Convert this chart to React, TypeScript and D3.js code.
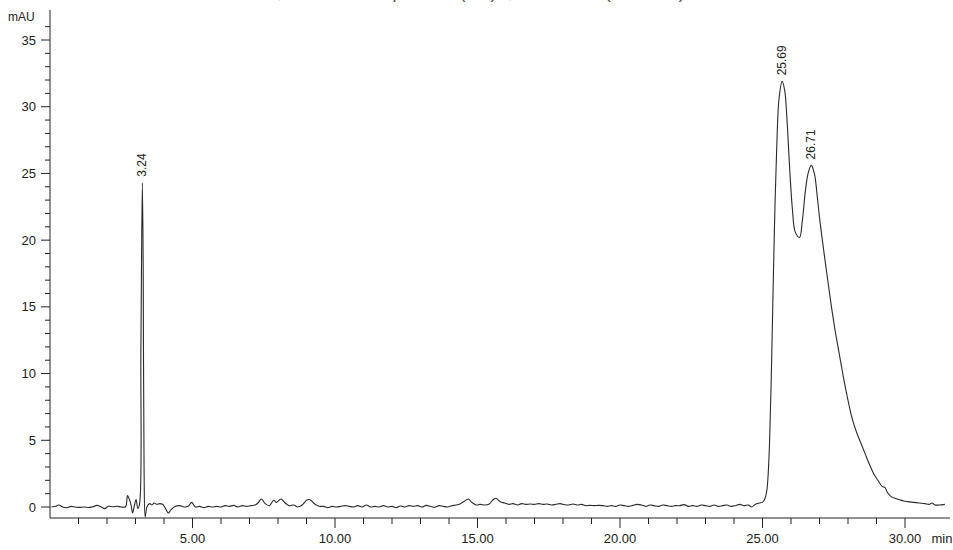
import React from "react";
import * as d3 from "d3";

const times: number[] = [
  0.05, 0.2, 0.3, 0.45, 0.6, 0.75, 0.9, 1.05, 1.2, 1.35, 1.5, 1.65, 1.8, 1.92, 2.05, 2.2, 2.35, 2.5, 2.65,
  2.72, 2.78, 2.84, 2.9, 2.96, 3.02, 3.08, 3.14, 3.19, 3.24, 3.27, 3.3, 3.34, 3.4, 3.5, 3.58, 3.65, 3.75,
  3.85, 3.95, 4.05, 4.15, 4.25, 4.4, 4.55, 4.7, 4.85, 4.97, 5.1, 5.25, 5.4, 5.55, 5.7, 5.85, 6.0, 6.15,
  6.3, 6.45, 6.6, 6.75, 6.9, 7.05, 7.2, 7.3, 7.42, 7.55, 7.7, 7.85, 7.95, 8.1, 8.25, 8.4, 8.55, 8.7, 8.85,
  9.0, 9.12, 9.3, 9.45, 9.6, 9.75, 9.9, 10.05, 10.2, 10.35, 10.5, 10.65, 10.8, 10.95, 11.1, 11.25, 11.4,
  11.55, 11.7, 11.85, 12.0, 12.15, 12.3, 12.45, 12.6, 12.75, 12.9, 13.05, 13.2, 13.35, 13.5, 13.65, 13.8,
  13.95, 14.1, 14.25, 14.4, 14.55, 14.68, 14.8, 14.95, 15.1, 15.25, 15.4, 15.55, 15.65, 15.8, 15.95, 16.1,
  16.25, 16.4, 16.55, 16.7, 16.85, 17.0, 17.15, 17.3, 17.45, 17.6, 17.75, 17.9, 18.05, 18.2, 18.35, 18.5,
  18.65, 18.8, 18.95, 19.1, 19.25, 19.4, 19.55, 19.7, 19.85, 20.0, 20.15, 20.3, 20.45, 20.6, 20.75, 20.9,
  21.05, 21.2, 21.35, 21.5, 21.65, 21.8, 21.95, 22.1, 22.25, 22.4, 22.55, 22.7, 22.85, 23.0, 23.15, 23.3,
  23.45, 23.6, 23.75, 23.9, 24.05, 24.2, 24.35, 24.5, 24.62, 24.75, 24.9, 25.0, 25.08, 25.15, 25.2, 25.25,
  25.3, 25.36, 25.42, 25.5, 25.58, 25.69, 25.78, 25.86, 25.95, 26.05, 26.15, 26.3, 26.4, 26.5, 26.6,
  26.71, 26.82, 26.92, 27.0, 27.1, 27.25, 27.4, 27.55, 27.7, 27.85, 28.0, 28.15, 28.3, 28.45, 28.6, 28.75,
  28.9, 29.05, 29.2, 29.3, 29.38, 29.5, 29.65, 29.8, 29.95, 30.1, 30.3, 30.5, 30.7, 30.85, 30.95, 31.05,
  31.2, 31.4,
];

const signal: number[] = [
  0.0, 0.05, 0.15, 0.0, -0.05, 0.05, -0.02, -0.03, 0.0, -0.04, 0.02, 0.12, 0.0, -0.12, 0.05, 0.02, 0.06, 0.0, 0.02,
  0.85, 0.6, 0.2, -0.45, 0.1, 0.55, -0.1, 0.2, 12, 24.3, 18, 3, -0.75, 0.0, 0.25, 0.15, 0.3, 0.2,
  0.25, 0.2, -0.1, -0.45, -0.2, 0.05, 0.1, 0.0, 0.05, 0.35, 0.0, 0.05, -0.05, 0.05, 0.0, 0.05, 0.0, 0.1,
  0.05, 0.12, 0.0, 0.1, 0.05, 0.1, 0.15, 0.3, 0.6, 0.25, 0.1, 0.5, 0.35, 0.6, 0.3, 0.1, 0.15, 0.0, 0.15,
  0.5, 0.55, 0.2, 0.05, 0.05, -0.05, 0.05, 0.0, 0.05, 0.1, 0.05, 0.0, 0.1, 0.0, 0.15, 0.0, 0.05,
  0.0, 0.1, 0.0, 0.05, -0.05, 0.08, 0.0, 0.1, 0.05, 0.1, 0.0, 0.12, 0.05, -0.02, 0.1, 0.05,
  0.0, 0.1, 0.15, 0.25, 0.45, 0.6, 0.35, 0.15, 0.2, 0.15, 0.2, 0.55, 0.65, 0.4, 0.3, 0.2,
  0.25, 0.15, 0.25, 0.2, 0.22, 0.2, 0.25, 0.2, 0.22, 0.15, 0.2, 0.25, 0.18, 0.15, 0.22, 0.15,
  0.2, 0.1, 0.12, 0.1, 0.12, 0.1, 0.05, 0.1, 0.05, 0.15, 0.1, 0.05, 0.12, 0.2, 0.15, 0.05,
  0.15, 0.1, 0.05, 0.15, 0.1, 0.05, 0.1, 0.1, 0.18, 0.05, 0.1, 0.05, 0.15, 0.1, 0.05, 0.15,
  0.05, 0.1, 0.15, 0.05, 0.1, 0.2, 0.1, 0.15, 0.0, 0.2, 0.3, 0.35, 0.6, 1.2, 2.5, 5,
  9, 15, 21, 27, 30.6, 31.9, 31.2, 29, 25.5, 22.3, 20.6, 20.2, 21.5, 23.6, 25.0,
  25.6, 25.0, 23.3, 21.7, 20.0, 17.6, 15.3, 13.2, 11.4, 9.6, 8.0, 6.6, 5.6, 4.8, 4.0, 3.2,
  2.5, 2.0, 1.55, 1.45, 1.1, 0.8, 0.65, 0.55, 0.45, 0.4, 0.35, 0.3, 0.25, 0.2, 0.3, 0.15,
  0.15, 0.2,
];

const peakTimes: number[] = [3.24, 25.69, 26.71];
const peakHeights: number[] = [24.3, 31.9, 25.6];
const peakLabels: string[] = ["3.24", "25.69", "26.71"];

const yMajorTicks: number[] = [0, 5, 10, 15, 20, 25, 30, 35];
const xMajorTicks: number[] = [5, 10, 15, 20, 25, 30];
const xTickLabels: string[] = ["5.00", "10.00", "15.00", "20.00", "25.00", "30.00"];

const titleText = "2998 PDA Ch1 254nm@1.2nm - Sample Run (UV) @ 254.0 nm (Ch1 254)";

export default function App() {
  const W = 953;
  const H = 550;
  const x = d3.scaleLinear().domain([0, 30]).range([50, 905]);
  const y = d3.scaleLinear().domain([0, 35]).range([507, 40]);
  const font = "'Liberation Sans', Arial, Helvetica, sans-serif";
  const ink = "#222";

  const pts: [number, number][] = times.map((t, i) => [t, signal[i]]);
  const line = d3
    .line<[number, number]>()
    .x((d) => x(d[0]))
    .y((d) => y(d[1]))
    .curve(d3.curveCatmullRom.alpha(0.5));

  const yMinor = d3.range(1, 37).filter((v) => v % 5 !== 0);
  const xMinor = d3.range(1, 31).filter((v) => v % 5 !== 0);
  const axisBottom = 518;
  const axisLeft = 50;

  return (
    <svg
      width={W}
      height={H}
      style={{ position: "absolute", left: 0, top: 0, background: "#fff" }}
      fontFamily={font}
    >
      <rect x={0} y={0} width={W} height={H} fill="#fff" />
      <text x={92} y={-2.5} fontSize={18} fill="#555">
        {titleText}
      </text>
      <text x={8} y={21} fontSize={12} fill={ink}>
        mAU
      </text>
      {/* y axis */}
      <line x1={axisLeft} x2={axisLeft} y1={10} y2={axisBottom} stroke={ink} strokeWidth={1} />
      {yMinor.map((v) => (
        <line key={"ym" + v} x1={axisLeft - 5} x2={axisLeft} y1={y(v)} y2={y(v)} stroke={ink} strokeWidth={1} />
      ))}
      {yMajorTicks.map((v) => (
        <g key={"yM" + v}>
          <line x1={axisLeft - 9} x2={axisLeft} y1={y(v)} y2={y(v)} stroke={ink} strokeWidth={1} />
          <text x={36} y={y(v) + 4.5} fontSize={13} textAnchor="end" fill={ink}>
            {String(v)}
          </text>
        </g>
      ))}
      {/* x axis */}
      <line x1={axisLeft} x2={950} y1={axisBottom} y2={axisBottom} stroke={ink} strokeWidth={1} />
      {xMinor.map((v) => (
        <line key={"xm" + v} x1={x(v)} x2={x(v)} y1={axisBottom} y2={axisBottom + 6} stroke={ink} strokeWidth={1} />
      ))}
      {xMajorTicks.map((v, i) => (
        <g key={"xM" + v}>
          <line x1={x(v)} x2={x(v)} y1={axisBottom} y2={axisBottom + 10} stroke={ink} strokeWidth={1} />
          <text x={x(v)} y={543} fontSize={13} textAnchor="middle" fill={ink}>
            {xTickLabels[i]}
          </text>
        </g>
      ))}
      <text x={942} y={543} fontSize={13} textAnchor="middle" fill={ink}>
        min
      </text>
      {/* trace */}
      <path d={line(pts) || ""} fill="none" stroke="#2a2a2a" strokeWidth={1.1} strokeLinejoin="round" />
      {/* peak labels */}
      {peakTimes.map((t, i) => (
        <text
          key={"pl" + i}
          transform={`translate(${x(t) + 4},${y(peakHeights[i]) - 6}) rotate(-90)`}
          fontSize={12}
          fill={ink}
        >
          {peakLabels[i]}
        </text>
      ))}
    </svg>
  );
}
